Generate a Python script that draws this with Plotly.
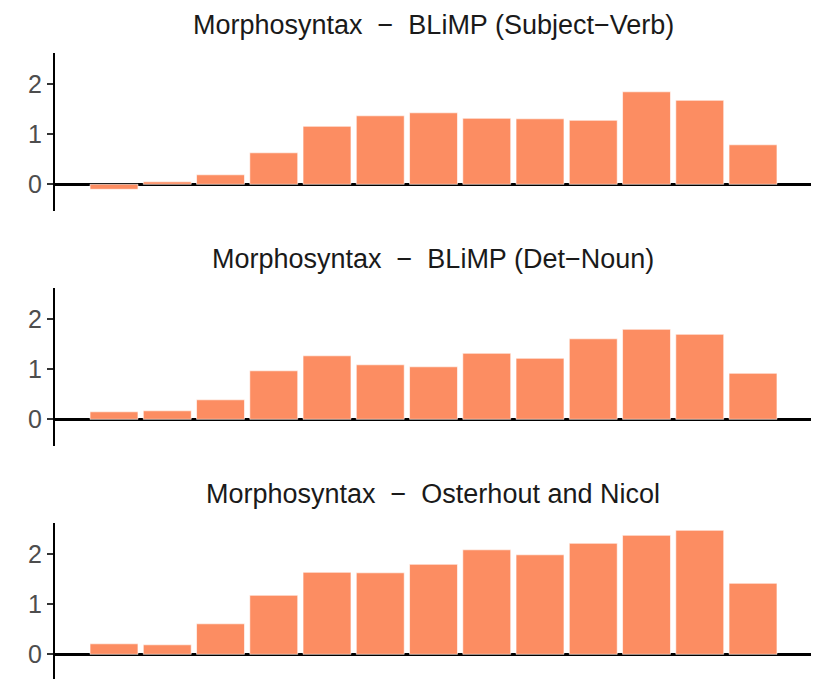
import plotly.graph_objects as go

# ---- data ----
positions = list(range(1, 14))
titles = [
    "Morphosyntax \u00a0\u2212\u00a0 BLiMP (Subject\u2212Verb)",
    "Morphosyntax \u00a0\u2212\u00a0 BLiMP (Det\u2212Noun)",
    "Morphosyntax \u00a0\u2212\u00a0 Osterhout and Nicol",
]
subject_verb = [-0.10, 0.05, 0.19, 0.63, 1.16, 1.37, 1.43, 1.32, 1.31, 1.28, 1.85, 1.68, 0.79]
det_noun = [0.15, 0.17, 0.39, 0.97, 1.27, 1.09, 1.05, 1.32, 1.22, 1.61, 1.80, 1.70, 0.92]
osterhout = [0.21, 0.19, 0.61, 1.18, 1.64, 1.63, 1.80, 2.09, 1.99, 2.22, 2.38, 2.48, 1.42]
series = [subject_verb, det_noun, osterhout]
tick_vals = [0, 1, 2]
tick_text = ["0", "1", "2"]

# ---- layout geometry (pixels) ----
W, H = 817, 679
x_left_px, x_right_px = 55, 811
zero_px = [184.3, 419.3, 654.3]
px_per_unit = 50.0
y_top_val = 2.62
y_bot_val = -0.535
title_px = [25, 259, 494]

BAR_COLOR = "#FC8D62"
FONT = "Liberation Sans, Arial, sans-serif"

fig = go.Figure()
layout_updates = {}
annotations = []
for i, vals in enumerate(series):
    n = i + 1
    xa = "x" if n == 1 else f"x{n}"
    ya = "y" if n == 1 else f"y{n}"
    fig.add_trace(go.Bar(
        x=positions, y=vals, xaxis=xa, yaxis=ya,
        marker=dict(color=BAR_COLOR, line=dict(color="white", width=0.6)),
        width=0.9, showlegend=False, hoverinfo="skip",
    ))
    top_px = zero_px[i] - y_top_val * px_per_unit
    bot_px = min(zero_px[i] - y_bot_val * px_per_unit, H)
    bot_val = -(bot_px - zero_px[i]) / px_per_unit
    dom = [1 - bot_px / H, 1 - top_px / H]
    xkey = "xaxis" if n == 1 else f"xaxis{n}"
    ykey = "yaxis" if n == 1 else f"yaxis{n}"
    layout_updates[xkey] = dict(
        domain=[x_left_px / W, x_right_px / W],
        range=[-0.108, 14.089], anchor=ya,
        showgrid=False, showticklabels=False, ticks="", showline=False,
        zeroline=False, fixedrange=True,
    )
    layout_updates[ykey] = dict(
        domain=dom, range=[bot_val, y_top_val], anchor=xa,
        showgrid=False, zeroline=True, zerolinecolor="black", zerolinewidth=2.5,
        showline=True, linecolor="black", linewidth=2,
        ticks="outside", ticklen=6, tickwidth=1.5, tickcolor="#333333",
        tickvals=tick_vals, ticktext=tick_text,
        tickfont=dict(family=FONT, size=25, color="#4d4d4d"),
        fixedrange=True,
    )
    annotations.append(dict(
        text=titles[i], xref="paper", yref="paper",
        x=(x_left_px + x_right_px) / 2 / W, y=1 - title_px[i] / H,
        xanchor="center", yanchor="middle", showarrow=False,
        font=dict(family=FONT, size=27, color="#1a1a1a"),
    ))

fig.update_layout(
    width=W, height=H,
    margin=dict(l=0, r=0, t=0, b=0),
    paper_bgcolor="white", plot_bgcolor="white",
    annotations=annotations,
    bargap=0.1,
    **layout_updates,
)

fig.write_html("out.html")
